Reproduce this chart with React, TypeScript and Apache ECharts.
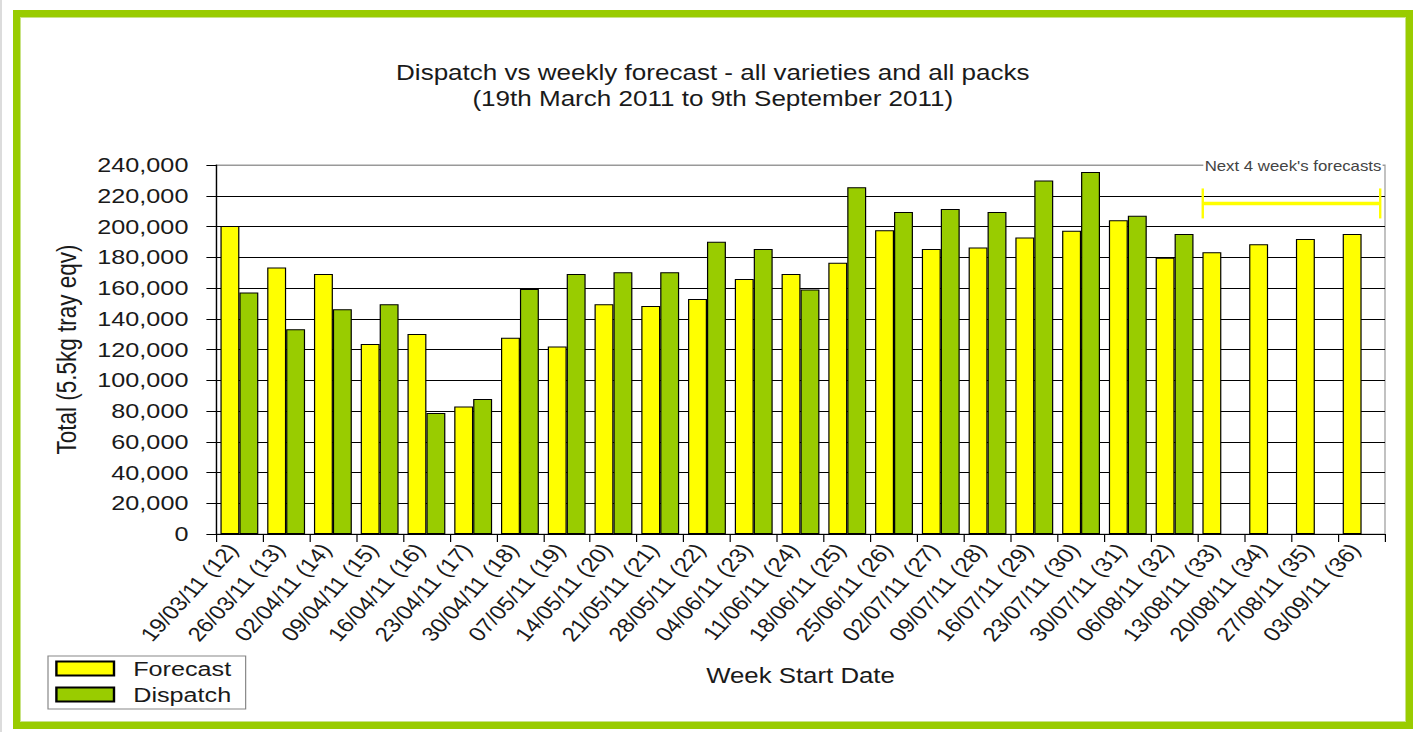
import React, { useEffect, useRef } from 'react';
import * as echarts from 'echarts';

const categories = [
  '19/03/11 (12)', '26/03/11 (13)', '02/04/11 (14)', '09/04/11 (15)', '16/04/11 (16)',
  '23/04/11 (17)', '30/04/11 (18)', '07/05/11 (19)', '14/05/11 (20)', '21/05/11 (21)',
  '28/05/11 (22)', '04/06/11 (23)', '11/06/11 (24)', '18/06/11 (25)', '25/06/11 (26)',
  '02/07/11 (27)', '09/07/11 (28)', '16/07/11 (29)', '23/07/11 (30)', '30/07/11 (31)',
  '06/08/11 (32)', '13/08/11 (33)', '20/08/11 (34)', '27/08/11 (35)', '03/09/11 (36)',
];

const forecast = [
  200300, 173400, 169100, 123600, 130100, 83000, 127700, 122000, 149400, 148300,
  152800, 165800, 169100, 176500, 197500, 185400, 186400, 192900, 197300, 204000,
  179700, 183200, 188400, 191900, 195100,
];

const dispatch = [
  157100, 133100, 146100, 149400, 78700, 87800, 159300, 169100, 170200, 170200,
  190100, 185400, 159100, 225500, 209400, 211400, 209400, 230000, 235400, 207000,
  195100, null, null, null, null,
];

const titleLines = [
  'Dispatch vs weekly forecast - all varieties and all packs',
  '(19th March 2011 to 9th September 2011)',
];
const annotationText = "Next 4 week's forecasts";
const forecastStart = 21; // index of first forecast-only week
const forecastEnd = 24;

const SX = 1.2;
const W = 1416 / SX;
const FONT = "'Liberation Sans', Arial, Helvetica, sans-serif";
const TXT = '#1a1a1a';

export default function App() {
  const ref = useRef<HTMLDivElement>(null);

  useEffect(() => {
    const chart = echarts.init(ref.current!, null, { renderer: 'svg' });
    const gridColors = Array.from({ length: 13 }, (_, i) => (i === 12 ? '#999' : '#000'));
    chart.setOption({
      animation: false,
      textStyle: { fontFamily: FONT },
      title: {
        text: titleLines.join('\n'),
        left: 589,
        top: 54,
        textAlign: 'center',
        textStyle: { fontSize: 21.7, fontWeight: 'normal', color: TXT, lineHeight: 26, fontFamily: FONT },
      },
      grid: {
        left: 180,
        right: W - 1385 / SX,
        top: 165,
        bottom: 198,
        show: true,
        borderColor: '#999',
        borderWidth: 1,
        containLabel: false,
      },
      legend: {
        data: ['Forecast', 'Dispatch'],
        orient: 'vertical',
        left: 40,
        top: 656,
        itemWidth: 48,
        itemHeight: 14,
        itemGap: 5,
        padding: [2, 12, 4, 6],
        borderColor: '#888',
        borderWidth: 1,
        icon: 'rect',
        textStyle: { fontSize: 21, color: TXT, fontFamily: FONT, padding: [0, 0, 0, 11] },
      },
      xAxis: {
        type: 'category',
        data: categories,
        axisLine: { lineStyle: { color: '#000', width: 1 } },
        axisTick: { show: true, length: 8, lineStyle: { color: '#000' } },
        axisLabel: {
          rotate: 52,
          interval: 0,
          fontSize: 20,
          color: TXT,
          margin: 5,
          padding: [0, 9, 0, 0],
          fontFamily: FONT,
        },
        name: 'Week Start Date',
        nameLocation: 'middle',
        nameGap: 131,
        nameTextStyle: { fontSize: 21.5, color: TXT, fontFamily: FONT },
      },
      yAxis: {
        type: 'value',
        min: 0,
        max: 240000,
        interval: 20000,
        axisLine: { show: true, lineStyle: { color: '#000', width: 1 } },
        axisTick: { show: true, length: 8, lineStyle: { color: '#000' } },
        axisLabel: {
          fontSize: 21,
          color: TXT,
          margin: 23,
          fontFamily: FONT,
          formatter: (v: number) => v.toLocaleString('en-US'),
        },
        splitLine: { show: true, lineStyle: { color: gridColors, width: 1 } },
        name: 'Total (5.5kg tray eqv)',
        nameLocation: 'middle',
        nameGap: 113,
        nameTextStyle: { fontSize: 22.5, color: TXT, fontFamily: FONT },
      },
      series: [
        {
          name: 'Forecast',
          type: 'bar',
          data: forecast,
          barGap: '0%',
          barCategoryGap: '19%',
          itemStyle: { color: '#FFFF00', borderColor: '#000', borderWidth: 1 },
        },
        {
          name: 'Dispatch',
          type: 'bar',
          data: dispatch,
          barGap: '0%',
          barCategoryGap: '19%',
          itemStyle: { color: '#99CC00', borderColor: '#000', borderWidth: 1 },
        },
      ],
    });

    const cA = chart.convertToPixel({ xAxisIndex: 0 }, forecastStart) as number;
    const cB = chart.convertToPixel({ xAxisIndex: 0 }, forecastStart + 1) as number;
    const cE = chart.convertToPixel({ xAxisIndex: 0 }, forecastEnd) as number;
    const band = cB - cA;
    const x1 = cA - band / 2 + 4;
    const x2 = cE + band / 2 - 4;
    const yMid = chart.convertToPixel({ yAxisIndex: 0 }, 215000) as number;
    const yTop = chart.convertToPixel({ yAxisIndex: 0 }, 240000) as number;
    const rightEdge = cE + band / 2;

    chart.setOption({
      graphic: [
        {
          type: 'line',
          shape: { x1, y1: yMid, x2, y2: yMid },
          style: { stroke: '#FFFF00', lineWidth: 3.5 },
          z: 100,
        },
        {
          type: 'line',
          shape: { x1, y1: yMid - 15, x2: x1, y2: yMid + 15 },
          style: { stroke: '#FFFF00', lineWidth: 2 },
          z: 100,
        },
        {
          type: 'line',
          shape: { x1: x2, y1: yMid - 15, x2, y2: yMid + 15 },
          style: { stroke: '#FFFF00', lineWidth: 2 },
          z: 100,
        },
        {
          type: 'text',
          x: rightEdge - 2,
          y: yTop + 1,
          z: 100,
          style: {
            text: annotationText,
            align: 'right',
            verticalAlign: 'middle',
            fontSize: 14,
            fontFamily: FONT,
            fill: '#444',
            backgroundColor: '#fff',
            padding: [1, 1],
          },
        },
      ],
    });

    return () => chart.dispose();
  }, []);

  return (
    <div
      style={{
        position: 'absolute',
        left: 0,
        top: 0,
        width: 1416,
        height: 732,
        overflow: 'hidden',
        background: '#fff',
      }}
    >
      <div style={{ position: 'absolute', left: 0, top: 0, width: 2, height: 732, background: '#dcdcdc' }} />
      <div
        ref={ref}
        style={{
          position: 'absolute',
          left: 0,
          top: 0,
          width: W,
          height: 732,
          transform: `scaleX(${SX})`,
          transformOrigin: '0 0',
        }}
      />
      <div
        style={{
          position: 'absolute',
          left: 13,
          top: 10,
          width: 1400,
          height: 719,
          border: '7px solid #99cc00',
          boxSizing: 'border-box',
          boxShadow: 'inset 0 0 0 1px #c9e386',
          pointerEvents: 'none',
        }}
      />
    </div>
  );
}
